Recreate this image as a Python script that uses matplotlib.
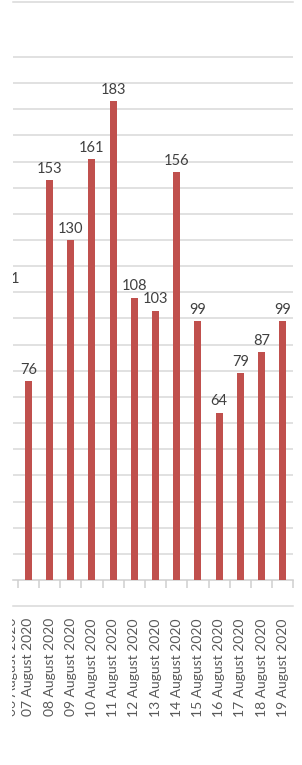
import matplotlib
matplotlib.use("Agg")
import matplotlib.pyplot as plt
from matplotlib.transforms import Bbox, TransformedBbox, blended_transform_factory

plt.rcParams['font.family'] = ['Lato', 'DejaVu Sans']

# data
dates = ["06 August 2020", "07 August 2020", "08 August 2020", "09 August 2020",
         "10 August 2020", "11 August 2020", "12 August 2020", "13 August 2020",
         "14 August 2020", "15 August 2020", "16 August 2020", "17 August 2020",
         "18 August 2020", "19 August 2020"]
values = [111, 76, 153, 130, 161, 183, 108, 103, 156, 99, 64, 79, 87, 99]

W, H = 302, 765
fig = plt.figure(figsize=(W / 100, H / 100), dpi=100)
left_px, right_px, bottom_px, top_px = 13.3, 293.3, 580, 2
ax = fig.add_axes([left_px / W, (H - bottom_px) / H,
                   (right_px - left_px) / W, (bottom_px - top_px) / H])

bar_color = "#C0504D"
grid_color = "#D9D9D9"
label_color = "#595959"

xs = [i - 1 for i in range(len(values))]
bars = ax.bar(xs, values, width=0.33, color=bar_color, zorder=3)

ax.set_xlim(-0.71, 12.5)
ax.set_ylim(0, 221)

for v in range(10, 201, 10):
    ax.axhline(v, color=grid_color, lw=1.1, zorder=1)

for s in ["left", "right"]:
    ax.spines[s].set_visible(False)
ax.spines["top"].set_color(grid_color)
ax.spines["top"].set_linewidth(1.1)
ax.spines["bottom"].set_color("#CFCFCF")
ax.spines["bottom"].set_linewidth(1.1)

ax.set_yticks([])
ax.set_xticks(xs[1:])
ax.set_xticklabels(dates[1:], rotation=90, fontsize=10, color=label_color)
ax.tick_params(axis="x", which="major", length=0, pad=27.5)
ax.set_xticks([i - 0.5 for i in range(13)] + [12.5], minor=True)
ax.tick_params(axis="x", which="minor", length=5.8, width=1.1, color="#CFCFCF")
for lbl in ax.get_xticklabels():
    lbl.set_ha("center")
    lbl.set_va("top")

clip_box = TransformedBbox(Bbox([[0, -1], [1, 2]]), ax.transAxes)

# value labels
for x, v in zip(xs, values):
    t = ax.annotate(str(v), (x, v), xytext=(0, 3), textcoords="offset points",
                    ha="center", va="bottom", fontsize=10.5, color="#404040",
                    zorder=4, annotation_clip=False)
    t.set_clip_on(True)
    t.set_clip_box(clip_box)

# partially visible first date label
trans = blended_transform_factory(ax.transData, ax.transAxes)
yl = -(618 - 580) / (bottom_px - top_px)
t0 = ax.text(-0.78, yl, dates[0], rotation=90, ha="center", va="top",
             fontsize=10, color=label_color, transform=trans)
t0.set_clip_on(True)
lbl_clip = TransformedBbox(Bbox([[12 / W, 0], [1, 1]]), fig.transFigure)
t0.set_clip_box(lbl_clip)

# separator line below the ticks
ys = -(606 - 580) / (bottom_px - top_px)
ax.plot([0, 1], [ys, ys], transform=ax.transAxes, color=grid_color, lw=1.1,
        clip_on=False)

fig.savefig("out.png", dpi=100, facecolor="white")
